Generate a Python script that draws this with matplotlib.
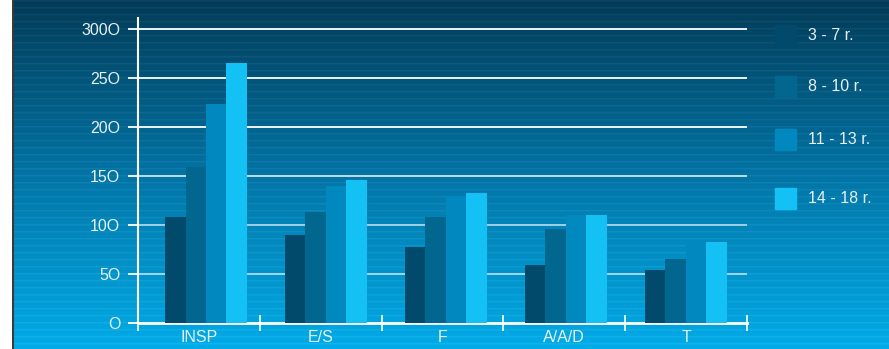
import numpy as np
import matplotlib.pyplot as plt
from matplotlib.patches import Rectangle

plt.rcParams['font.family'] = ['Liberation Sans', 'DejaVu Sans']

categories = ['INSP', 'E/S', 'F', 'A/A/D', 'T']
series = ['3 - 7 r.', '8 - 10 r.', '11 - 13 r.', '14 - 18 r.']
values = [
    [108, 90, 77, 59, 54],
    [159, 113, 108, 96, 65],
    [223, 140, 130, 110, 85],
    [265, 146, 133, 110, 83],
]
colors = ['#014a6b', '#02678f', '#0088bf', '#14c1f4']
yticks = [0, 50, 100, 150, 200, 250, 300]
ytick_labels = ['O', '5O', '10O', '15O', '20O', '25O', '300O']

W, H = 889, 349
fig = plt.figure(figsize=(W / 100, H / 100), dpi=100)
fig.patch.set_facecolor('white')

# striped gradient background
bg = fig.add_axes([12 / W, 0, 1 - 12 / W, 1])
rows = np.arange(H)
stops_y = [0, 175, H - 1]
stops_c = np.array([[0x02, 0x3b, 0x57], [0x03, 0x74, 0xa5], [0x02, 0xab, 0xe7]], float)
grad = np.stack([np.interp(rows, stops_y, stops_c[:, k]) for k in range(3)], axis=1)
stripe = np.where(rows % 7 == 0, 10, np.where(rows % 7 == 1, 4, 0))
grad = np.clip(grad + stripe[:, None], 0, 255) / 255
bg.imshow(grad[:, None, :].repeat(4, axis=1), aspect='auto', extent=[0, 1, 0, 1])
bg.axvline(0.001, color='#3a3a3a', lw=1.5)
bg.set_axis_off()

ax = fig.add_axes([138 / W, 1 - 323 / H, (747 - 138) / W, (323 - 18) / H])
ax.patch.set_alpha(0)
ax.set_xlim(0, len(categories))
ax.set_ylim(0, 311)

bw = 0.168
x = np.arange(len(categories))
centers = 0.558 + 0.985 * x
for i, (vals, c) in enumerate(zip(values, colors)):
    ax.bar(centers + (i - 1.5) * bw, vals, width=bw, color=c, zorder=3, label=series[i])

alphas = [0, 0.65, 0.65, 0.8, 1, 1, 1]
for yv, a in zip(yticks, alphas):
    if yv > 0:
        ax.axhline(yv, color='white', lw=1.3, alpha=a, zorder=1)

for s in ['top', 'right']:
    ax.spines[s].set_visible(False)
ax.spines['left'].set_color('white')
ax.spines['bottom'].set_color('white')
ax.spines['left'].set_linewidth(1.5)
ax.spines['bottom'].set_linewidth(2)

ax.set_yticks(yticks)
ax.set_yticklabels(ytick_labels)
ax.tick_params(axis='y', colors='white', length=7.2, width=1.3, pad=5.5,
               labelcolor='#e8f0f4', labelsize=11.5)
ax.set_xticks(range(len(categories) + 1))
ax.set_xticklabels([])
ax.tick_params(axis='x', which='major', colors='white', direction='inout',
               length=11, width=1.2)
ax.set_xticks(x + 0.5, minor=True)
ax.set_xticklabels(categories, minor=True)
ax.tick_params(axis='x', which='minor', length=0, pad=5, labelcolor='#e8f0f4',
               labelsize=11.5)

# legend on the right
leg_y = [35, 86.5, 139.5, 198.5]
for name, c, yc in zip(series, colors, leg_y):
    fig.patches.append(Rectangle((775 / W, 1 - (yc + 10.5) / H), 21 / W, 21 / H,
                                 color=c, transform=fig.transFigure))
    fig.text(808 / W, 1 - yc / H, name, color='#e8f0f4', fontsize=11.5, va='center')

fig.savefig('out.png', dpi=100)
